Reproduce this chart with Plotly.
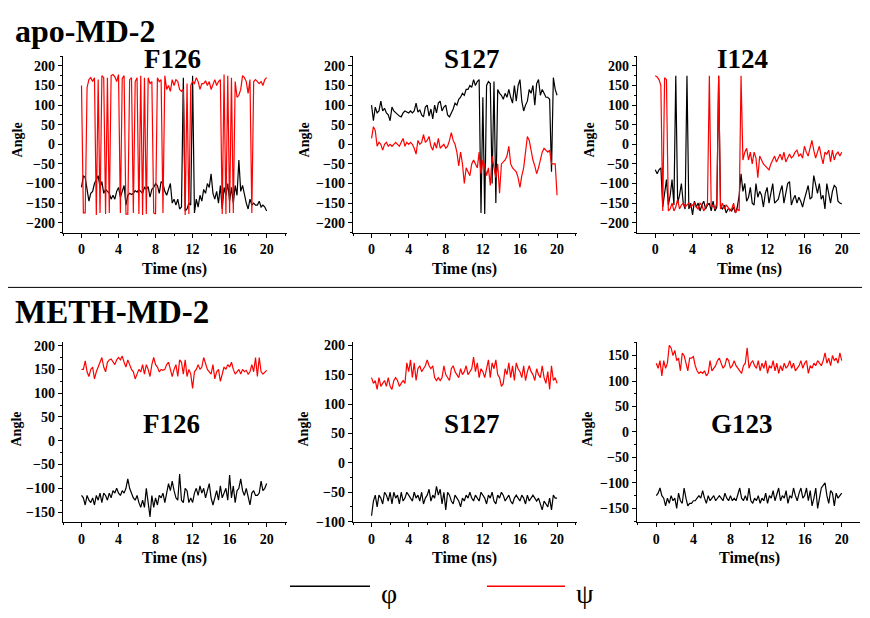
import numpy as np
import plotly.graph_objects as go

# time axis in ns, one frame every 0.2 ns
time_ns = np.linspace(0, 20, 101)

# ---- apo-MD-2 ----
apo_f126_phi = [
    -110, -80, -85, -120, -145, -125, -120, -100, -90, -80,
    -110, -95, -125, -115, -120, -125, -140, -130, -140, -120,
    -110, -135, -120, -105, -155, -130, -125, -128, -125, -118,
    -122, -115, -120, -125, -110, -115, -108, -135, -115, -110,
    -100, -105, -125, -95, -100, -120, -130, -115, -100, -150,
    -140, -155, -140, -165, -160, 170, -170, -165, -150, -155,
    175, -175, -140, -160, -130, -145, -115, -125, -100, -110,
    -75, -125, -140, -120, -150, -105, -165, -110, -130, -100,
    -145, -110, -150, -105, -130, -40, -120, -105, -130, -150,
    -165, -140, -155, -150, -155, -155, -145, -160, -155, -160,
    -170]
apo_f126_psi = [
    150, -175, -175, 145, 165, 170, 160, 170, -180, 165,
    -175, 175, 170, -178, 170, -175, 175, 178, 172, 160,
    178, -175, 168, 175, -178, -178, 165, 170, -175, 160,
    170, -178, 175, -180, 170, -178, 170, 155, 160, -175,
    -178, 170, 160, 165, -175, 175, 140, 150, 135, 165,
    150, 165, 160, 140, 135, 140, -180, 155, -178, 150,
    160, 155, 170, 160, 140, 155, 155, 162, 150, 160,
    140, 155, 165, 150, 160, 165, -178, 178, -178, 175,
    -175, 170, -175, 160, 120, 125, 140, 175, 170, 160,
    130, 165, -175, 160, 165, 160, 155, 160, 150, 165,
    170]
apo_s127_phi = [
    100, 60, 95, 80, 85, 110, 85, 92, 80, 75,
    60, 95, 85, 80, 75, 72, 70, 80, 85, 82,
    80, 85, 80, 85, 105, 82, 88, 75, 70, 95,
    100, 72, 90, 65, 100, 80, 105, 110, 85, 95,
    100, 75, 70, 80, 90, 105, 100, 115, 120, 130,
    125, 140, 140, 150, 145, 165, 150, 160, 165, -175,
    120, -178, 150, 160, 155, -100, 160, -150, 140, 130,
    125, 115, 130, 120, 140, 120, 105, 150, 110, 150,
    165, 110, 85, 100, 110, 140, 130, 150, 100, 155,
    165, 125, 140, 130, 120, 120, 115, -70, 170, 140,
    125]
apo_s127_psi = [
    15, 45, 35, -5, 5, 0, -15, 0, 5, -5,
    0, -5, 0, 5, 0, -5, 5, 15, -5, 5,
    0, 5, 0, -10, -25, 10, 0, 5, 25, 5,
    10, 20, -5, -15, 5, -10, 15, -10, -5, 0,
    -10, -5, 10, 30, 10, 0, -20, -55, -20, -50,
    -100, -60, -70, -80, -50, -40, -50, -60, -20, -75,
    -40, -55, -80, -60, -105, -30, -60, -85, -50, -125,
    -50, -45, -40, -30, -5, -50, -60, -65, -70, -85,
    -110, -80, -60, -20, 20, 10, -20, -40, -55, -75,
    -60, -40, -20, -10, -15, -20, -15, -50, -50, -50,
    -130]
apo_i124_phi = [
    -65, -75, -65, -60, -160, -120, -90, -155, -130, -90,
    -155, 175, -150, -130, -100, -150, -165, 175, -165, -150,
    -180, -145, -160, -150, -170, -155, -145, -165, -155, -150,
    -170, -145, -170, -160, 175, -160, -165, -155, -175, -165,
    -165, -170, -160, -175, -160, -130, -75, -120, -100, -145,
    -135, -110, -150, -155, -100, -135, -120, -130, -160, -125,
    -110, -150, -125, -100, -150, -145, -140, -120, -105, -150,
    -125, -100, -95, -155, -140, -130, -150, -135, -145, -160,
    -140, -125, -105, -140, -135, -80, -105, -125, -100, -140,
    -130, -165, -100, -130, -150, -120, -105, -110, -145, -150,
    -152]
apo_i124_psi = [
    175, 172, 165, 150, -170, 170, 165, -170, -165, -150,
    -170, -160, -140, -165, -155, -150, -160, -155, -150, -160,
    -155, -150, -160, -165, -150, -155, -170, -160, -150, 175,
    -160, -155, -165, -150, 175, -165, -150, -165, -155, -160,
    -170, -165, -150, -175, -165, -170, 175, -40, -20, -10,
    -40, -20, -50, -20, -35, -85, -30, -40, -50, -55,
    -60, -65, -50, -40, -30, -45, -35, -25, -40, -20,
    -45, -35, -25, -35, -30, -20, -15, -30, -25, -35,
    -5, -20, -30, -10, 10, -15, -35, -20, -5, -30,
    -50, -20, -25, -15, -45, -15, -40, -25, -20, -30,
    -20]

# ---- METH-MD-2 ----
meth_f126_phi = [
    -115, -120, -135, -115, -125, -130, -120, -135, -115, -125,
    -110, -130, -110, -115, -125, -110, -120, -105, -110, -100,
    -110, -115, -105, -110, -100, -80, -100, -110, -120, -125,
    -115, -130, -140, -125, -140, -100, -130, -160, -115, -140,
    -120, -135, -115, -120, -110, -130, -110, -90, -105, -85,
    -105, -120, -125, -70, -125, -130, -100, -105, -130, -120,
    -130, -110, -100, -115, -95, -110, -100, -120, -105, -90,
    -120, -135, -120, -105, -125, -95, -120, -110, -100, -125,
    -72, -120, -95, -130, -105, -100, -80, -105, -115, -100,
    -115, -135, -110, -105, -115, -115, -110, -85, -105, -100,
    -90]
meth_f126_psi = [
    150, 150, 168, 145, 135, 150, 155, 130, 145, 155,
    165, 175, 155, 145, 165, 170, 172, 165, 160, 170,
    175, 170, 178, 165, 155, 170, 160, 150, 145, 130,
    140, 150, 145, 160, 140, 160, 150, 135, 160, 175,
    160, 155, 145, 150, 148, 150, 160, 165, 150, 135,
    150, 160, 135, 170, 165, 140, 170, 135, 150, 140,
    110, 145, 150, 160, 150, 155, 175, 160, 150, 145,
    140, 160, 130, 145, 150, 125, 140, 155, 150, 160,
    155, 165, 150, 140, 145, 150, 140, 150, 145, 148,
    140, 145, 160, 145, 175, 135, 175, 145, 140, 145,
    148]
meth_s127_phi = [
    -90, -65, -55, -75, -55, -60, -70, -50, -55, -65,
    -50, -70, -50, -60, -55, -70, -50, -65, -60, -50,
    -55, -60, -65, -50, -60, -55, -65, -50, -70, -60,
    -55, -45, -65, -55, -60, -40, -55, -45, -70, -50,
    -80, -50, -55, -65, -70, -55, -60, -65, -75, -60,
    -65, -55, -60, -50, -60, -65, -55, -60, -65, -50,
    -55, -60, -70, -55, -60, -50, -65, -70, -55, -60,
    -50, -55, -65, -60, -55, -65, -70, -60, -55, -60,
    -65, -55, -60, -70, -55, -65, -60, -55, -60, -65,
    -60, -70, -80, -65, -70, -75, -60, -80, -55, -60,
    -60]
meth_s127_psi = [
    145, 135, 140, 125, 145, 130, 135, 140, 130, 145,
    130, 125, 140, 145, 140, 130, 135, 140, 135, 170,
    155, 175, 145, 170, 140, 160, 165, 155, 160, 165,
    175, 165, 160, 165, 145, 140, 145, 140, 145, 165,
    150, 145, 140, 160, 165, 155, 150, 145, 160, 150,
    155, 165, 150, 155, 160, 180, 155, 170, 145, 160,
    155, 145, 160, 175, 145, 170, 160, 175, 150, 145,
    130, 135, 160, 150, 170, 145, 165, 140, 170, 160,
    155, 145, 165, 140, 155, 165, 155, 150, 140, 160,
    150, 145, 165, 145, 135, 155, 125, 165, 140, 145,
    135]
meth_g123_phi = [
    -125, -120, -110, -125, -130, -145, -130, -140, -125, -135,
    -130, -150, -120, -135, -140, -110, -130, -145, -140, -140,
    -135, -135, -130, -125, -130, -115, -130, -140, -125, -135,
    -130, -125, -135, -130, -125, -130, -135, -120, -130, -135,
    -125, -135, -130, -135, -120, -110, -130, -135, -125, -135,
    -110, -135, -140, -130, -135, -125, -140, -130, -135, -120,
    -140, -125, -130, -115, -135, -120, -110, -135, -125, -130,
    -115, -140, -125, -130, -110, -125, -135, -120, -110, -130,
    -125, -110, -135, -115, -145, -130, -110, -150, -125, -110,
    -105, -100, -125, -140, -115, -120, -145, -120, -130, -125,
    -120]
meth_g123_psi = [
    135, 125, 140, 110, 140, 125, 135, 170, 165, 150,
    160, 140, 145, 120, 155, 150, 135, 120, 145, 145,
    148, 130, 120, 115, 118, 115, 120, 110, 115, 140,
    120, 125, 130, 140, 145, 135, 125, 130, 145, 140,
    125, 130, 140, 130, 125, 120, 115, 130, 135, 165,
    125, 135, 140, 130, 125, 140, 120, 135, 125, 140,
    115, 130, 125, 140, 120, 135, 115, 130, 120, 135,
    125, 130, 140, 125, 135, 120, 125, 130, 140, 125,
    135, 140, 115, 130, 125, 135, 130, 140, 135, 130,
    140, 155, 135, 145, 130, 150, 140, 145, 135, 155,
    140]

SERIF = "Liberation Serif, Times New Roman, serif"
PHI_COLOR = "black"
PSI_COLOR = "#ff0000"

# the page body keeps an 8 px margin, so the figure is 16 px smaller than the window
PAGE_MARGIN = 8
W, H = 870 - 2 * PAGE_MARGIN, 618 - 2 * PAGE_MARGIN
px = lambda v: (v - PAGE_MARGIN) / W
py = lambda v: 1 - (v - PAGE_MARGIN) / H

top_y = [py(233), py(53)]
bot_y = [py(528), py(345)]
# panel: phi, psi, title, x-title, x domain, y domain, x range, y range,
#        title pos, x-title pos, y-title pos (page pixels)
panels = [
    (apo_f126_phi, apo_f126_psi, "F126", "Time (ns)", [px(63), px(287)], top_y, [-2.0, 22.2], [-225, 225],
     (172, 56), (174, 270), (17, 139)),
    (apo_s127_phi, apo_s127_psi, "S127", "Time (ns)", [px(353), px(577)], top_y, [-2.0, 22.15], [-225, 225],
     (472, 56), (464, 270), (304, 139)),
    (apo_i124_phi, apo_i124_psi, "I124", "Time (ns)", [px(637), px(860)], top_y, [-1.96, 21.96], [-225, 225],
     (742, 56), (749, 270), (589, 139)),
    (meth_f126_phi, meth_f126_psi, "F126", "Time (ns)", [px(63), px(287)], bot_y, [-2.0, 22.2], [-170, 207],
     (171, 428), (174, 565), (17, 434)),
    (meth_s127_phi, meth_s127_psi, "S127", "Time (ns)", [px(353), px(577)], bot_y, [-2.0, 22.15], [-100, 205],
     (472, 428), (464, 565), (304, 434)),
    (meth_g123_phi, meth_g123_psi, "G123", "Time(ns)", [px(637), px(860)], bot_y, [-2.08, 21.97], [-176, 176],
     (742, 428), (749, 565), (588, 434)),
]

tick_font = dict(family=SERIF, size=14, color="black", weight="bold")
axis_common = dict(showline=True, linecolor="black", linewidth=1.3, ticks="outside",
                   ticklen=4, tickwidth=1.2, tickcolor="black", showgrid=False,
                   zeroline=False, tickfont=tick_font)


def note(x, y, text, size, bold=True, anchor="center", angle=0):
    return dict(x=px(x), y=py(y), xref="paper", yref="paper", text=text, showarrow=False,
                xanchor=anchor, yanchor="middle", textangle=angle,
                font=dict(family=SERIF, size=size, color="black", weight="bold" if bold else "normal"))


fig = go.Figure()
layout = {}
annotations = []
for i, (phi, psi, title, xtitle, xdom, ydom, xr, yr, tpos, xtpos, ytpos) in enumerate(panels, start=1):
    sfx = "" if i == 1 else str(i)
    fig.add_trace(go.Scatter(x=time_ns, y=phi, mode="lines", line=dict(color=PHI_COLOR, width=1.2),
                             xaxis="x" + sfx, yaxis="y" + sfx, showlegend=False))
    fig.add_trace(go.Scatter(x=time_ns, y=psi, mode="lines", line=dict(color=PSI_COLOR, width=1.2),
                             xaxis="x" + sfx, yaxis="y" + sfx, showlegend=False))
    layout["xaxis" + sfx] = dict(axis_common, domain=xdom, range=xr, anchor="y" + sfx,
                                 tick0=0, dtick=4,
                                 minor=dict(ticks="outside", ticklen=2, tick0=0, dtick=2, tickcolor="black"))
    layout["yaxis" + sfx] = dict(axis_common, domain=ydom, range=yr, anchor="x" + sfx,
                                 tick0=0, dtick=50,
                                 minor=dict(ticks="outside", ticklen=2, tick0=0, dtick=25, tickcolor="black"))
    annotations.append(note(*tpos, title, 27))
    annotations.append(note(*xtpos, xtitle, 16))
    annotations.append(note(*ytpos, "Angle", 14, angle=-90))

# section headings
annotations.append(note(13, 27, "apo-MD-2", 32, anchor="left"))
annotations.append(note(13, 314, "METH-MD-2", 33, anchor="left"))

# legend drawn by hand
annotations.append(note(379, 601, "φ", 28, bold=False, anchor="left"))
annotations.append(note(574, 601, "ψ", 28, bold=False, anchor="left"))

shapes = [
    dict(type="line", xref="paper", yref="paper", x0=0, x1=1, y0=py(289), y1=py(289),
         line=dict(color="black", width=1)),
    dict(type="line", xref="paper", yref="paper", x0=px(290), x1=px(370), y0=py(594), y1=py(594),
         line=dict(color=PHI_COLOR, width=1.6)),
    dict(type="line", xref="paper", yref="paper", x0=px(487), x1=px(565), y0=py(594), y1=py(594),
         line=dict(color=PSI_COLOR, width=1.6)),
]

fig.update_layout(**layout)
fig.update_layout(width=W, height=H, margin=dict(l=0, r=0, t=0, b=0),
                  paper_bgcolor="white", plot_bgcolor="white",
                  annotations=annotations, shapes=shapes, showlegend=False)

fig.write_html("out.html")
